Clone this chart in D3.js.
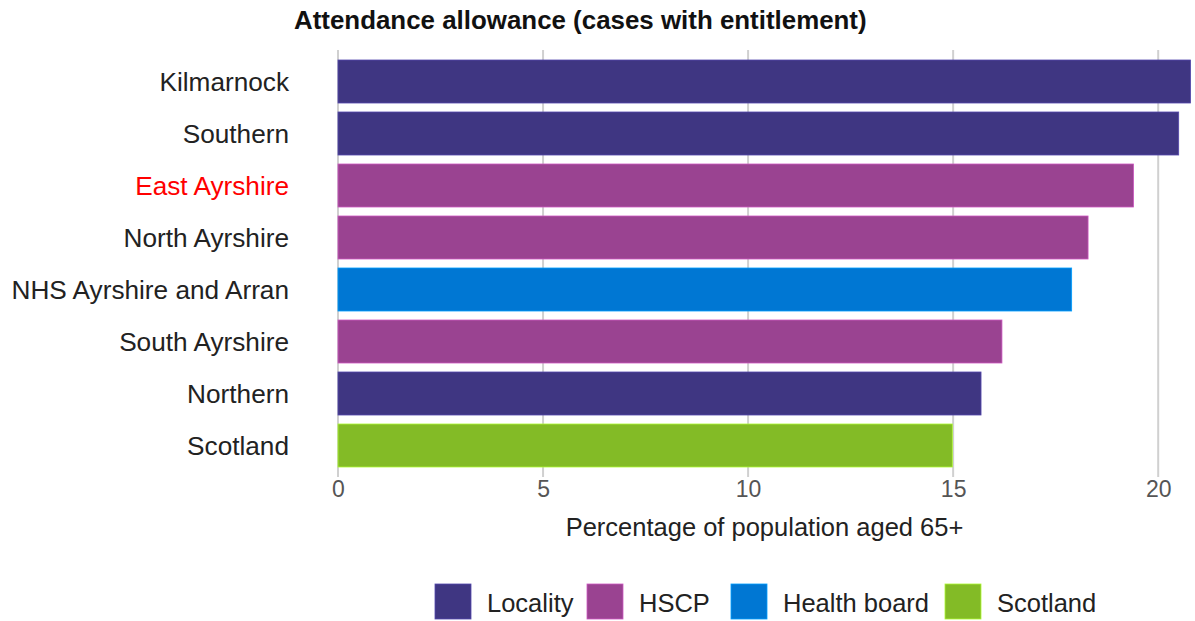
<!DOCTYPE html>
<html>
<head>
<meta charset="utf-8">
<script src="https://cdn.jsdelivr.net/npm/d3@7"></script>
<style>
  html, body { margin: 0; padding: 0; background: #fff; }
  svg { display: block; font-family: "Liberation Sans", Arial, sans-serif; }
</style>
</head>
<body>
<svg id="chart" width="1195" height="621"></svg>
<script>
const categories = ["Kilmarnock", "Southern", "East Ayrshire", "North Ayrshire", "NHS Ayrshire and Arran", "South Ayrshire", "Northern", "Scotland"];
const values = [20.79, 20.50, 19.40, 18.29, 17.89, 16.19, 15.68, 14.98];
const groups = ["Locality", "Locality", "HSCP", "HSCP", "Health board", "HSCP", "Locality", "Scotland"];
const legendLabels = ["Locality", "HSCP", "Health board", "Scotland"];
const legendColors = ["#3f3682", "#9a4391", "#0077d3", "#83bb26"];
const xTicks = [0, 5, 10, 15, 20];
const highlight = "East Ayrshire";

const svg = d3.select("#chart");
const color = d3.scaleOrdinal().domain(legendLabels).range(legendColors);

const x = d3.scaleLinear().domain([0, 20.8]).range([338, 1191]);
const y = d3.scaleBand().domain(categories).range([55.5, 471.5]).paddingInner(0.173).paddingOuter(0.0865);

// gridlines
svg.append("g").selectAll("line").data(xTicks).join("line")
  .attr("x1", d => x(d)).attr("x2", d => x(d))
  .attr("y1", 50).attr("y2", 477)
  .attr("stroke", "#d0d0d0").attr("stroke-width", 2);

// bars
svg.append("g").selectAll("rect").data(categories).join("rect")
  .attr("x", x(0))
  .attr("y", d => y(d))
  .attr("width", (d, i) => x(values[i]) - x(0))
  .attr("height", y.bandwidth())
  .attr("fill", (d, i) => color(groups[i]))
  .attr("stroke", (d, i) => d3.color(color(groups[i])).brighter(0.8))
  .attr("stroke-width", 0.8);

// y labels
svg.append("g").selectAll("text").data(categories).join("text")
  .attr("x", 289)
  .attr("y", d => y(d) + y.bandwidth() / 2)
  .attr("dy", "0.37em")
  .attr("text-anchor", "end")
  .attr("font-size", 26.2)
  .attr("fill", d => d === highlight ? "#ff0000" : "#222")
  .text(d => d);

// x axis tick labels
const xAxis = d3.axisBottom(x).tickValues(xTicks).tickSize(0).tickPadding(0);
const gx = svg.append("g").attr("transform", "translate(0,481)").call(xAxis);
gx.select(".domain").remove();
gx.selectAll("text").attr("font-size", 23).attr("fill", "#555").attr("dy", "0.71em")
  .style("font-family", "Liberation Sans, Arial, sans-serif");

// axis title
svg.append("text").attr("x", (x.range()[0] + x.range()[1]) / 2).attr("y", 536)
  .attr("text-anchor", "middle").attr("font-size", 25.5).attr("fill", "#222")
  .text("Percentage of population aged 65+");

// title
svg.append("text").attr("x", 294).attr("y", 29)
  .attr("font-size", 25.9).attr("font-weight", "bold").attr("fill", "#111")
  .text("Attendance allowance (cases with entitlement)");

// legend
const legendX = [435, 587, 731, 945];
const lg = svg.append("g").selectAll("g").data(legendLabels).join("g")
  .attr("transform", (d, i) => `translate(${legendX[i]},584)`);
lg.append("rect").attr("width", 36).attr("height", 35)
  .attr("fill", d => color(d))
  .attr("stroke", d => d3.color(color(d)).brighter(0.8)).attr("stroke-width", 0.8);
lg.append("text").attr("x", 52).attr("y", 18).attr("dy", "0.38em")
  .attr("font-size", 25.5).attr("fill", "#222").text(d => d);
</script>
</body>
</html>
